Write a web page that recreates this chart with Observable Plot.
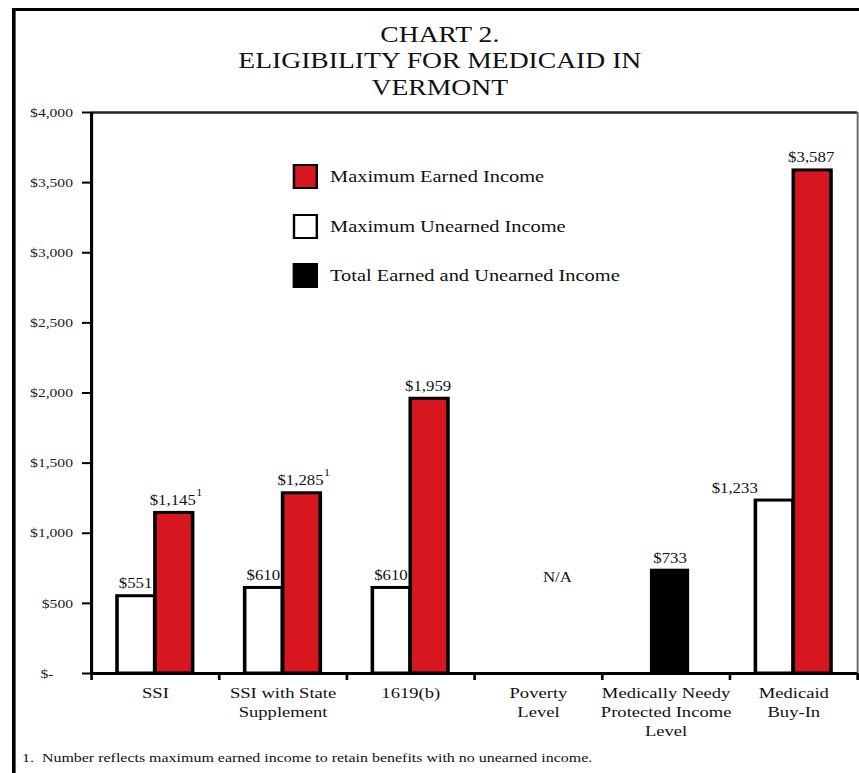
<!DOCTYPE html>
<html>
<head>
<meta charset="utf-8">
<script src="https://cdn.jsdelivr.net/npm/d3@7"></script>
<script src="https://cdn.jsdelivr.net/npm/@observablehq/plot@0.6"></script>
<style>
  html, body { margin: 0; padding: 0; background: #fff; }
  /* The chart is laid out on a 716px-wide canvas and widened 1.2x horizontally. */
  #page {
    position: relative; width: 716px; height: 773px;
    transform: scaleX(1.2); transform-origin: 0 0;
    font-family: "Liberation Serif", "Times New Roman", serif; color: #111;
  }
  #border {
    position: absolute; left: 10px; top: 8px; right: 0; bottom: 0;
    border-left: 3.4px solid #000; border-top: 3px solid #000;
  }
  #title {
    position: absolute; left: 0; top: 21.6px; width: 733px;
    text-align: center; font-size: 23px; line-height: 26.5px;
  }
  #chart { position: absolute; left: 0; top: 100px; }
  #legend { position: absolute; left: 244px; top: 0; }
  .item { position: absolute; left: 0; display: flex; align-items: center; white-space: nowrap; height: 25px; }
  .sw { display: inline-block; width: 21px; height: 25px; box-sizing: border-box; border: 2.6px solid #000; }
  .lab { margin-left: 10px; font-size: 17px; line-height: 25px; }
  #note { position: absolute; left: 18.3px; top: 750px; font-size: 13.3px; line-height: 16px; white-space: nowrap; }
</style>
</head>
<body>
<div id="page">
  <div id="border"></div>
  <div id="title">CHART 2.<br>ELIGIBILITY FOR MEDICAID IN<br>VERMONT</div>
  <div id="chart"></div>
  <div id="legend"></div>
  <div id="note">1.&nbsp; Number reflects maximum earned income to retain benefits with no unearned income.</div>
</div>
<script>
// Program categories along the x axis (line breaks as printed)
const categories = [
  "SSI",
  "SSI with State\nSupplement",
  "1619(b)",
  "Poverty\nLevel",
  "Medically Needy\nProtected Income\nLevel",
  "Medicaid\nBuy-In"
];
// Monthly income limits in dollars (null = no bar)
const maxUnearned = [551, 610, 610, null, null, 1233];
const maxEarned   = [1145, 1285, 1959, null, null, 3587];
const totalIncome = [null, null, null, null, 733, null];
// Footnote markers on the earned-income labels
const earnedNotes = ["1", "1", "", "", "", ""];
// Categories with no applicable limit
const notApplicable = ["Poverty\nLevel"];

// Y axis ticks and their printed labels
const yTicks = [0, 500, 1000, 1500, 2000, 2500, 3000, 3500, 4000];
const yTickLabels = ["$-\u2007\u2007\u2008", "$500", "$1,000", "$1,500", "$2,000", "$2,500", "$3,000", "$3,500", "$4,000"];

// Legend entries
const legendLabels = ["Maximum Earned Income", "Maximum Unearned Income", "Total Earned and Unearned Income"];
const legendFills = ["#d8161f", "#ffffff", "#000000"];

const RED = "#d8161f";
const money = v => "$" + d3.format(",")(v);

const series = (values, key) =>
  values.map((v, i) => ({i, v, key})).filter(d => d.v != null);

const unearnedData = series(maxUnearned, "unearned");
const earnedData = series(maxEarned, "earned");
const totalData = series(totalIncome, "total");
const notesData = earnedData
  .map(d => ({...d, note: earnedNotes[d.i]}))
  .filter(d => d.note);
const naData = notApplicable.map(c => ({i: categories.indexOf(c)}));
const groups = categories.map((c, i) => ({i, c}));
const boundaries = categories.map((_, i) => i).concat(categories.length);

// Unearned labels too wide for their bar sit to its left, clear of the taller earned bar
const wideLabel = d => d.v >= 1000;
const unearnedCentered = unearnedData.filter(d => !wideLabel(d));
const unearnedShifted = unearnedData.filter(wideLabel);

const barStyle = {stroke: "#000", strokeWidth: 3};
const labelStyle = {fontSize: 14, fill: "#111", lineAnchor: "bottom", dy: -8};

const chart = Plot.plot({
  width: 716,
  height: 643,
  marginLeft: 75.8,
  marginRight: 1.8,
  marginTop: 12,
  marginBottom: 70,
  style: {fontFamily: '"Liberation Serif", "Times New Roman", serif', color: "#111", background: "transparent", overflow: "visible"},
  x: {domain: [0, categories.length], axis: null},
  y: {domain: [0, 4000], axis: null},
  marks: [
    // bars
    Plot.rect(unearnedData, {x1: d => d.i, x2: d => d.i + 1, y1: 0, y2: "v", insetLeft: 21.7, insetRight: 53.3, fill: "#fff", ...barStyle}),
    Plot.rect(earnedData, {x1: d => d.i, x2: d => d.i + 1, y1: 0, y2: "v", insetLeft: 53.3, insetRight: 21.7, fill: RED, ...barStyle}),
    Plot.rect(totalData, {x1: d => d.i, x2: d => d.i + 1, y1: 0, y2: "v", insetLeft: 41.7, insetRight: 35, fill: "#000", ...barStyle}),

    // plot frame
    Plot.ruleY([4000], {stroke: "#222", strokeWidth: 2.5}),
    Plot.ruleX([categories.length], {stroke: "#666", strokeWidth: 1.6}),
    Plot.ruleY([0], {stroke: "#000", strokeWidth: 3}),
    Plot.ruleX([0], {stroke: "#000", strokeWidth: 2.6}),

    // axes
    Plot.axisY(yTicks, {
      tickSize: 7.5, tickPadding: 8, strokeWidth: 2, stroke: "#000",
      fontSize: 13, fill: "#222", label: null,
      tickFormat: d => yTickLabels[yTicks.indexOf(d)]
    }),
    Plot.axisX(boundaries, {tickSize: 7, strokeWidth: 2.2, stroke: "#000", tickFormat: () => "", label: null}),
    Plot.text(groups, {
      x: d => d.i + 0.5, text: "c", frameAnchor: "bottom", lineAnchor: "top",
      dy: 11, fontSize: 15.5, lineHeight: 1.23, fill: "#111"
    }),

    // value labels
    Plot.text(unearnedCentered, {x: d => d.i + 0.5, y: "v", text: d => money(d.v), dx: -16.5, ...labelStyle}),
    Plot.text(unearnedShifted, {x: d => d.i + 0.5, y: "v", text: d => money(d.v), dx: -30, textAnchor: "end", ...labelStyle}),
    Plot.text(earnedData, {x: d => d.i + 0.5, y: "v", text: d => money(d.v), dx: 14.5, ...labelStyle}),
    Plot.text(totalData, {x: d => d.i + 0.5, y: "v", text: d => money(d.v), dx: 3.3, ...labelStyle}),
    Plot.text(notesData, {x: d => d.i + 0.5, y: "v", text: "note", dx: 34, dy: -17, textAnchor: "start", lineAnchor: "bottom", fontSize: 10, fill: "#111"}),
    Plot.text(naData, {x: d => d.i + 0.5, y: () => maxUnearned[1], text: () => "N/A", dx: 15.8, dy: -6, lineAnchor: "bottom", fontSize: 14, fill: "#111"})
  ]
});
document.getElementById("chart").appendChild(chart);

// Legend
const legend = document.getElementById("legend");
const legendTops = [164, 214, 263];
legendLabels.forEach((label, k) => {
  const item = document.createElement("div");
  item.className = "item";
  item.style.top = legendTops[k] + "px";
  const sw = document.createElement("span");
  sw.className = "sw";
  sw.style.background = legendFills[k];
  const t = document.createElement("span");
  t.className = "lab";
  t.textContent = label;
  item.appendChild(sw);
  item.appendChild(t);
  legend.appendChild(item);
});
</script>
</body>
</html>
